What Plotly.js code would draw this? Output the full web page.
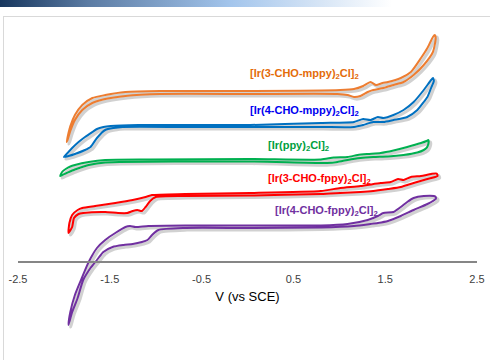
<!DOCTYPE html>
<html><head><meta charset="utf-8">
<script src="https://cdn.plot.ly/plotly-3.0.1.min.js"></script>
<style>
html,body{margin:0;padding:0;background:#fff;overflow:hidden;width:490px;height:360px;}
#band{position:absolute;left:0;top:0;width:490px;height:7px;background:linear-gradient(to right,#17365d 0%,#5b7ba3 18%,#a3c5ec 47%,#d8e6f6 66%,#ffffff 80%);}
#frame{position:absolute;left:3px;top:16px;width:600px;height:500px;border-top:1.5px solid #d9d9d9;border-left:1.5px solid #d9d9d9;}
#chart{position:absolute;left:0;top:0;width:490px;height:360px;}
</style></head><body>
<div id="band"></div><div id="frame"></div><div id="chart"></div>
<script>
// Potential (V vs SCE) and current (arbitrary units, curves offset) for each complex
const seriesNames = [
  '[Ir(3-CHO-mppy)<sub>2</sub>Cl]<sub>2</sub>',
  '[Ir(4-CHO-mppy)<sub>2</sub>Cl]<sub>2</sub>',
  '[Ir(ppy)<sub>2</sub>Cl]<sub>2</sub>',
  '[Ir(3-CHO-fppy)<sub>2</sub>Cl]<sub>2</sub>',
  '[Ir(4-CHO-fppy)<sub>2</sub>Cl]<sub>2</sub>'
];
const tickVals = [-2.5, -1.5, -0.5, 0.5, 1.5, 2.5];
const tickText = ['-2.5', '-1.5', '-0.5', '0.5', '1.5', '2.5'];
const xTitle = 'V (vs SCE)';

const orangeV = [-1.97,-1.95,-1.93,-1.88,-1.80,-1.69,-1.55,-1.33,-0.95,0.03,1.01,1.16,1.26,1.34,1.40,1.47,1.53,1.67,1.78,1.89,1.96,2.02,2.04,
  2.05,2.02,1.92,1.81,1.70,1.59,1.48,1.37,1.31,1.23,1.16,1.09,0.98,0.03,-0.95,-1.33,-1.55,-1.69,-1.80,-1.88,-1.93,-1.96,-1.97];
const orangeI = [11.9,12.8,13.5,14.6,15.6,16.3,16.6,16.9,17.0,17.0,17.1,17.2,17.5,17.9,17.6,17.8,17.9,18.3,18.9,20.3,21.3,22.4,22.6,
  22.3,20.9,19.6,18.6,17.9,17.6,17.3,17.1,16.9,16.5,16.4,16.6,16.7,16.7,16.7,16.5,16.2,15.8,15.1,14.1,13.0,12.1,11.9];

const blueV = [-2.00,-1.95,-1.91,-1.84,-1.77,-1.69,-1.64,-1.57,-1.49,-1.19,-0.68,0.03,0.80,1.16,1.26,1.34,1.42,1.48,1.59,1.70,1.81,1.92,2.00,2.02,
  2.03,2.00,1.96,1.92,1.85,1.74,1.59,1.48,1.37,1.26,1.16,0.80,0.03,-0.68,-1.36,-1.46,-1.55,-1.64,-1.71,-1.77,-1.88,-1.95,-2.00];
const blueI = [10.4,10.9,11.3,11.9,12.4,12.9,13.2,13.4,13.5,13.6,13.6,13.6,13.8,13.9,14.2,14.1,14.4,14.3,14.6,15.1,15.9,17.1,18.1,18.3,
  18.0,17.3,16.4,15.9,15.1,14.4,14.1,13.9,13.9,13.6,13.4,13.4,13.4,13.4,13.4,13.3,13.1,12.3,11.4,11.1,10.7,10.5,10.4];

const greenV = [-2.04,-2.02,-1.98,-1.93,-1.88,-1.73,-1.55,-1.06,0.03,0.80,0.94,1.09,1.20,1.31,1.45,1.59,1.74,1.89,1.95,1.97,
  1.97,1.95,1.92,1.85,1.70,1.53,1.37,1.23,1.09,0.98,0.87,0.03,-1.55,-1.73,-1.88,-1.97,-2.02,-2.04];
const greenI = [8.5,8.9,9.2,9.45,9.6,9.9,10.1,10.15,10.2,10.15,10.35,10.4,10.6,10.7,10.8,11.05,11.4,11.8,12.0,12.1,
  11.7,11.3,11.1,10.85,10.6,10.45,10.4,10.3,10.1,9.9,9.8,9.95,9.85,9.6,9.15,8.8,8.6,8.5];

const redV = [-1.95,-1.94,-1.91,-1.85,-1.80,-1.66,-1.44,-1.25,-1.11,-1.04,-0.68,0.03,0.80,1.01,1.23,1.45,1.56,1.64,1.70,1.78,1.89,2.00,2.06,
  2.07,1.96,1.81,1.67,1.53,1.37,1.23,1.01,0.80,0.03,-0.68,-1.00,-1.06,-1.11,-1.15,-1.20,-1.25,-1.31,-1.41,-1.55,-1.79,-1.84,-1.89,-1.91,-1.95];
const redI = [2.8,3.8,4.6,5.1,5.3,5.5,5.8,6.1,6.4,6.6,6.7,6.8,7.0,7.3,7.5,7.8,7.9,8.2,8.1,8.4,8.5,8.7,8.75,
  8.5,8.2,7.8,7.4,7.2,7.0,6.9,6.8,6.7,6.55,6.5,6.4,6.0,5.4,5.0,5.1,5.0,4.8,4.8,4.9,4.8,4.7,4.3,3.4,2.8];

const purpleV = [-1.95,-1.93,-1.88,-1.80,-1.73,-1.64,-1.55,-1.44,-1.33,-1.28,-1.22,-1.08,-0.68,0.03,0.80,1.09,1.31,1.42,1.48,1.59,1.67,1.74,1.81,1.92,2.03,2.05,
  2.05,1.96,1.81,1.67,1.53,1.42,1.34,1.16,0.80,0.03,-0.68,-0.97,-1.04,-1.09,-1.15,-1.25,-1.35,-1.47,-1.57,-1.64,-1.71,-1.79,-1.85,-1.91,-1.95];
const purpleI = [-6.4,-5.1,-3.4,-1.6,-0.1,1.3,2.1,2.8,3.4,3.5,3.4,3.5,3.55,3.55,3.55,3.7,4.1,4.5,4.8,4.9,5.4,5.9,6.3,6.5,6.5,6.4,
  6.2,5.7,5.1,4.5,4.0,3.8,3.7,3.5,3.35,3.3,3.3,3.1,2.6,2.1,1.9,1.7,1.6,1.4,0.9,0.1,-0.7,-1.9,-3.7,-5.1,-6.4];

const seriesV = [orangeV, blueV, greenV, redV, purpleV];
const seriesI = [orangeI, blueI, greenI, redI, purpleI];
const lineColors = ['#ED7D31', '#0070C0', '#00B050', '#FF0000', '#7030A0'];
const labelColors = ['#E46C0A', '#0000F0', '#00A040', '#FF0000', '#7030A0'];
const labelPos = [[0.01, 18.7], [0.01, 15.0], [0.20, 11.5], [0.20, 8.2], [0.28, 5.0]];

const X_RANGE = [-2.5, 2.5];
const Y_RANGE = [-8.4, 24.4];
const PW = 490 - 18 - 13, PH = 360 - 17 - 15;
const dx = 2 * (X_RANGE[1] - X_RANGE[0]) / PW;
const dy = 2 * (Y_RANGE[1] - Y_RANGE[0]) / PH;

const traces = [];
// soft shadows (base subplot, drawn underneath)
for (let k = 0; k < seriesV.length; k++) {
  traces.push({x: seriesV[k], y: seriesI[k], xaxis: 'x', yaxis: 'y', mode: 'lines',
    line: {color: 'rgba(0,0,0,0.18)', width: 3.2, shape: 'spline', smoothing: 0.6},
    hoverinfo: 'skip', showlegend: false});
}
for (let k = 0; k < seriesV.length; k++) {
  traces.push({x: seriesV[k], y: seriesI[k], xaxis: 'x2', yaxis: 'y2', mode: 'lines', name: seriesNames[k],
    line: {color: lineColors[k], width: 2, shape: 'spline', smoothing: 0.6}, showlegend: false});
}

const annotations = seriesNames.map((n, k) => ({
  xref: 'x2', yref: 'y2', x: labelPos[k][0], y: labelPos[k][1], xanchor: 'left', yanchor: 'middle',
  text: '<b>' + n + '</b>', showarrow: false,
  font: {family: 'Liberation Sans, Arial, sans-serif', size: 11, color: labelColors[k]}
}));

const layout = {
  width: 490, height: 360,
  margin: {l: 18, r: 13, t: 17, b: 15, pad: 0},
  paper_bgcolor: 'rgba(0,0,0,0)', plot_bgcolor: 'rgba(0,0,0,0)',
  showlegend: false,
  xaxis: {range: [X_RANGE[0] - dx, X_RANGE[1] - dx], visible: false, fixedrange: true},
  yaxis: {range: [Y_RANGE[0] + dy, Y_RANGE[1] + dy], visible: false, fixedrange: true},
  xaxis2: {
    overlaying: 'x', range: X_RANGE, anchor: 'free',
    position: (0 - Y_RANGE[0]) / (Y_RANGE[1] - Y_RANGE[0]),
    showline: true, linecolor: '#868686', linewidth: 1.5,
    showgrid: false, zeroline: false,
    tickmode: 'array', tickvals: tickVals, ticktext: tickText,
    ticks: 'outside', ticklen: 7, tickcolor: 'rgba(0,0,0,0)',
    tickfont: {family: 'Liberation Sans, Arial, sans-serif', size: 11, color: '#404040'},
    title: {text: xTitle, standoff: 8, font: {family: 'Liberation Sans, Arial, sans-serif', size: 13, color: '#000'}},
    fixedrange: true
  },
  yaxis2: {overlaying: 'y', range: Y_RANGE, visible: false, fixedrange: true},
  annotations: annotations
};

Plotly.newPlot('chart', traces, layout, {staticPlot: true, displayModeBar: false});
</script>
</body></html>
